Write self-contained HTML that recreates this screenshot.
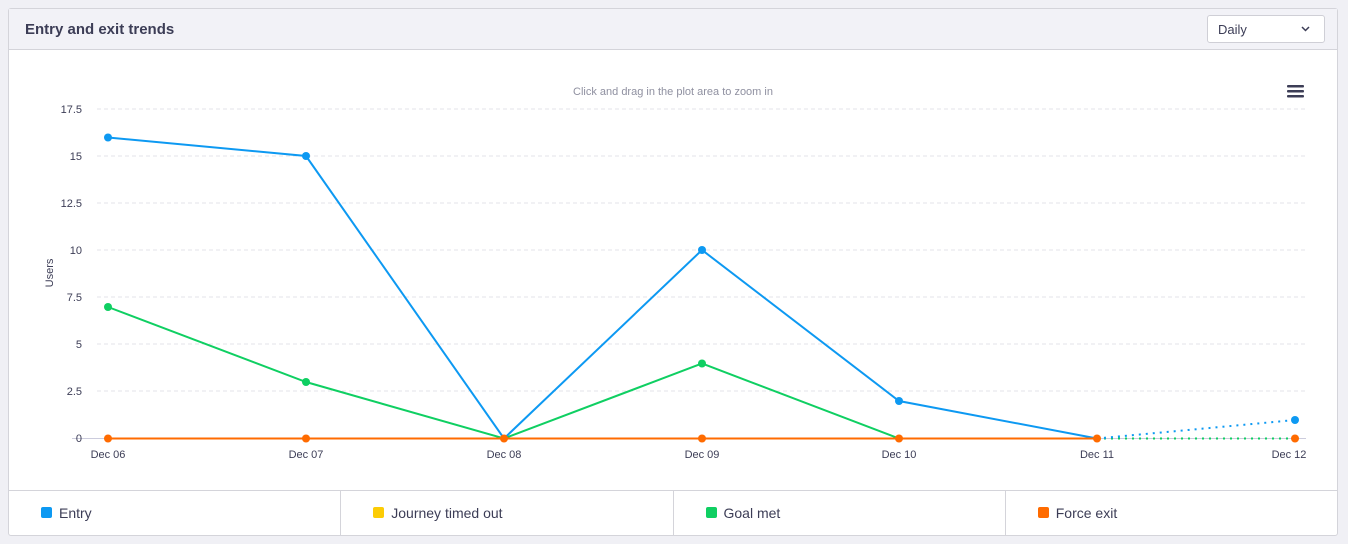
<!DOCTYPE html>
<html><head><style>
body{margin:0;width:1348px;height:544px;background:#f0f0f5;font-family:"Liberation Sans",sans-serif;position:relative;overflow:hidden}
.card{position:absolute;left:8px;top:8px;width:1328px;height:526px;background:#fff;border:1px solid #d4d4da;border-radius:3px}
.hdr{position:absolute;left:0;top:0;width:1328px;height:40px;background:#f2f2f7;border-bottom:1px solid #d4d4da}
.title{position:absolute;left:16px;top:12px;font-size:15px;font-weight:bold;color:#3c3d56}
.sel{position:absolute;left:1198px;top:6px;width:118px;height:28px;border:1px solid #cfcfd6;border-radius:3px;background:#fff;font-size:13px;color:#3c3d56;box-sizing:border-box;padding:6px 10px}
.leg{position:absolute;left:0;top:481px;width:1328px;height:45px;border-top:1px solid #d4d4da;display:flex}
.leg div{flex:1;border-right:1px solid #d4d4da;font-size:14px;color:#3c3d56;padding:14px 0 0 32px;position:relative}
.leg div:last-child{border-right:none}
.leg span{position:absolute;left:32px;top:16px;width:11px;height:11px;border-radius:2px}
.leg div{padding-left:50px}
</style></head><body>
<div class="card">
<div class="hdr"><div class="title">Entry and exit trends</div>
<div class="sel">Daily<svg style="position:absolute;right:14px;top:10px" width="9" height="6"><path d="M1 1L4.5 4.5L8 1" stroke="#3c3d56" stroke-width="1.5" fill="none"/></svg></div></div>
<div class="leg"><div><span style="background:#0d99f2"></span>Entry</div><div><span style="background:#fccc05"></span>Journey timed out</div><div><span style="background:#0fcf62"></span>Goal met</div><div><span style="background:#ff6b00"></span>Force exit</div></div>
</div>
<svg style="position:absolute;left:0;top:0" width="1348" height="544" font-family="Liberation Sans, sans-serif">
<text x="673" y="95" font-size="11" fill="#8f90a0" text-anchor="middle">Click and drag in the plot area to zoom in</text>
<g fill="#3c3d56"><rect x="1287" y="85" width="17" height="2.5" rx="1"/><rect x="1287" y="90" width="17" height="2.5" rx="1"/><rect x="1287" y="95" width="17" height="2.5" rx="1"/></g>
<g stroke="#e3e3e8" stroke-dasharray="4,3">
<line x1="97" x2="1306" y1="109" y2="109"/><line x1="97" x2="1306" y1="156" y2="156"/><line x1="97" x2="1306" y1="203" y2="203"/><line x1="97" x2="1306" y1="250" y2="250"/><line x1="97" x2="1306" y1="297" y2="297"/><line x1="97" x2="1306" y1="344" y2="344"/><line x1="97" x2="1306" y1="391" y2="391"/></g>
<line x1="72" x2="1306" y1="438.5" y2="438.5" stroke="#ccd" />
<g font-size="11" fill="#3c3d56" text-anchor="end">
<text x="82" y="113">17.5</text><text x="82" y="160">15</text><text x="82" y="207">12.5</text><text x="82" y="254">10</text><text x="82" y="301">7.5</text><text x="82" y="348">5</text><text x="82" y="395">2.5</text><text x="82" y="442">0</text></g>
<text transform="translate(53,273) rotate(-90)" font-size="11" fill="#3c3d56" text-anchor="middle">Users</text>
<g font-size="11" fill="#3c3d56" text-anchor="middle">
<text x="108" y="458">Dec 06</text><text x="306" y="458">Dec 07</text><text x="504" y="458">Dec 08</text><text x="702" y="458">Dec 09</text><text x="899" y="458">Dec 10</text><text x="1097" y="458">Dec 11</text><text x="1289" y="458">Dec 12</text></g>
<polyline fill="none" stroke="#0fcf62" stroke-width="2" points="108,307 306,382 504,438.5 702,363.5 899,438.5 1097,438.5"/>
<line x1="1097" y1="438.5" x2="1295" y2="438.5" stroke="#0fcf62" stroke-width="2" stroke-dasharray="2,5"/>
<polyline fill="none" stroke="#0d99f2" stroke-width="2" points="108,137.5 306,156 504,438.5 702,250 899,401 1097,438.5"/>
<line x1="1097" y1="438.5" x2="1295" y2="420" stroke="#0d99f2" stroke-width="2" stroke-dasharray="2,5"/>
<line x1="108" y1="438.5" x2="1097" y2="438.5" stroke="#ff6b00" stroke-width="2"/>
<g fill="#0fcf62"><circle cx="108" cy="307" r="4"/><circle cx="306" cy="382" r="4"/><circle cx="702" cy="363.5" r="4"/></g>
<g fill="#0d99f2"><circle cx="108" cy="137.5" r="4"/><circle cx="306" cy="156" r="4"/><circle cx="702" cy="250" r="4"/><circle cx="899" cy="401" r="4"/><circle cx="1295" cy="420" r="4"/></g>
<g fill="#ff6b00"><circle cx="108" cy="438.5" r="4"/><circle cx="306" cy="438.5" r="4"/><circle cx="504" cy="438.5" r="4"/><circle cx="702" cy="438.5" r="4"/><circle cx="899" cy="438.5" r="4"/><circle cx="1097" cy="438.5" r="4"/><circle cx="1295" cy="438.5" r="4"/></g>
</svg>
</body></html>
